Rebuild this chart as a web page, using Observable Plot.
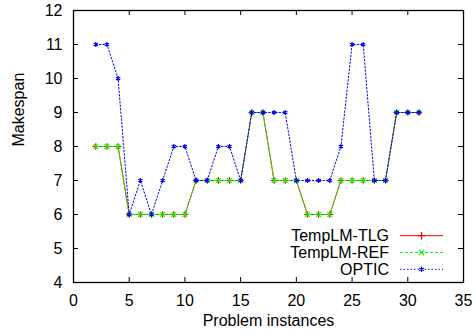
<!DOCTYPE html>
<html><head><meta charset="utf-8">
<script src="https://cdn.jsdelivr.net/npm/d3@7"></script>
<script src="https://cdn.jsdelivr.net/npm/@observablehq/plot@0.6"></script>
<style>body{margin:0;background:#fff} #chart{width:476px;height:335px}</style>
</head><body><div id="chart"></div>
<script>
const instances = [2,3,4,5,6,7,8,9,10,11,12,13,14,15,16,17,18,19,20,21,22,23,24,25,26,27,28,29,30,31];
const seriesNames = ["TempLM-TLG", "TempLM-REF", "OPTIC"];
const tlg   = [8,8,8,6,6,6,6,6,6,7,7,7,7,7,9,9,7,7,7,6,6,6,7,7,7,7,7,9,9,9];
const ref   = [8,8,8,6,6,6,6,6,6,7,7,7,7,7,9,9,7,7,7,6,6,6,7,7,7,7,7,9,9,9];
const optic = [11,11,10,6,7,6,7,8,8,7,7,8,8,7,9,9,9,9,7,7,7,7,8,11,11,7,7,9,9,9];
const xTicks = [0,5,10,15,20,25,30,35];
const yTicks = [4,5,6,7,8,9,10,11,12];
const xLabel = "Problem instances";
const yLabel = "Makespan";

const colors = ["#ff0000", "#00ff00", "#0000ff"];
const dashes = [null, "3,2", "1.5,2"];
const symbols = ["plus", "times", "asterisk"];
const values = [tlg, ref, optic];

const W = 476, H = 335, mT = 10, mB = 53, mL = 73, mR = 13;
const fh = H - mT - mB, fw = W - mL - mR;
const font = "'Liberation Sans', Arial, Helvetica, sans-serif";

const marks = [];
const inX = xTicks.slice(1, -1), inY = yTicks.slice(1, -1);
marks.push(Plot.tickX(inX, {x: d => d, insetTop: fh - 5, stroke: "#000"}));
marks.push(Plot.tickX(inX, {x: d => d, insetBottom: fh - 5, stroke: "#000"}));
marks.push(Plot.tickY(inY, {y: d => d, insetRight: fw - 5, stroke: "#000"}));
marks.push(Plot.tickY(inY, {y: d => d, insetLeft: fw - 5, stroke: "#000"}));

seriesNames.forEach((name, i) => {
  const rows = instances.map((x, j) => ({x, y: values[i][j]}));
  marks.push(Plot.line(rows, {x: "x", y: "y", stroke: colors[i], strokeWidth: 1, strokeDasharray: dashes[i]}));
  marks.push(Plot.dot(rows, {x: "x", y: "y", symbol: symbols[i], stroke: colors[i], r: 2.3, strokeWidth: 1.2}));
});

marks.push(Plot.axisX(xTicks, {tickSize: 0, tickPadding: 12, fontSize: 16, label: null}));
marks.push(Plot.axisY(yTicks, {tickSize: 0, tickPadding: 11, fontSize: 16, label: null}));
marks.push(Plot.text([xLabel], {frameAnchor: "bottom", dy: 43, fontSize: 16, fill: "#000"}));
marks.push(Plot.text([yLabel], {frameAnchor: "left", dx: -55, rotate: -90, fontSize: 16, fill: "#000"}));
marks.push(Plot.frame({stroke: "#000", strokeWidth: 1.3}));

const plot = Plot.plot({
  width: W, height: H,
  marginTop: mT, marginBottom: mB, marginLeft: mL, marginRight: mR,
  style: {fontFamily: font, fontSize: "16px", color: "#000", background: "#fff"},
  x: {domain: [0, 35], axis: null},
  y: {domain: [4, 12], axis: null},
  marks
});
document.getElementById("chart").appendChild(plot);

// legend (inside plot, bottom right)
const svg = d3.select(plot);
const lg = svg.append("g").attr("font-family", font).attr("font-size", 16);
const rowY = [235.7, 252.5, 269.3];
const sym = {plus: d3.symbolPlus, times: d3.symbolTimes, asterisk: d3.symbolAsterisk};
seriesNames.forEach((name, i) => {
  lg.append("text").attr("x", 389).attr("y", rowY[i]).attr("text-anchor", "end")
    .attr("dy", "0.35em").attr("fill", "#000").text(name);
  lg.append("line").attr("x1", 400).attr("x2", 443).attr("y1", rowY[i]).attr("y2", rowY[i])
    .attr("stroke", colors[i]).attr("stroke-dasharray", dashes[i]);
  lg.append("path").attr("d", d3.symbol(sym[symbols[i]], 20)())
    .attr("transform", `translate(421.5,${rowY[i]})`)
    .attr("fill", "none").attr("stroke", colors[i]).attr("stroke-width", 1.2);
});
</script></body></html>
